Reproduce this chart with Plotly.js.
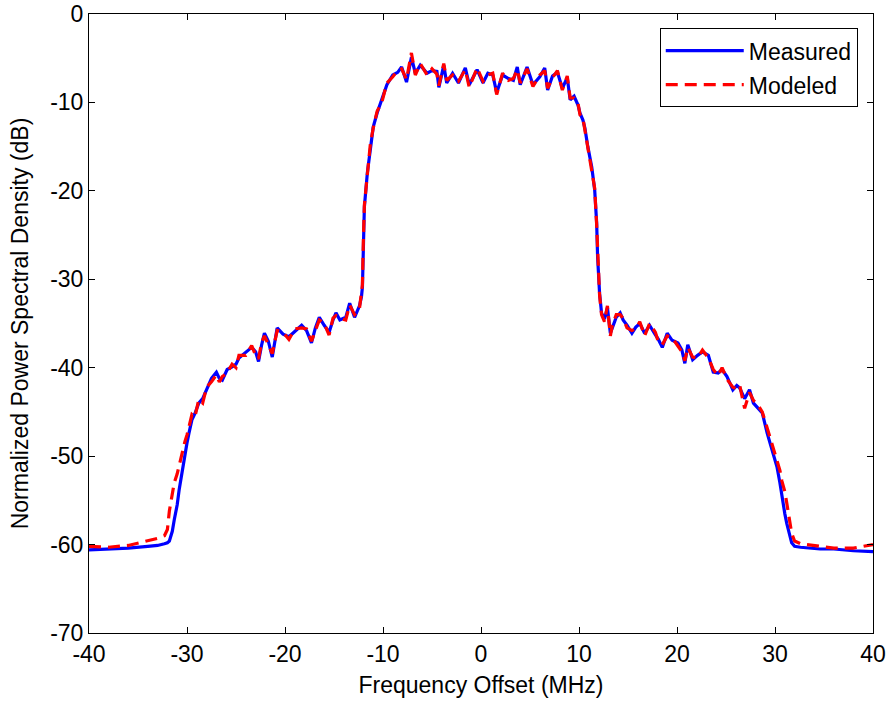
<!DOCTYPE html>
<html>
<head>
<meta charset="utf-8">
<script src="https://cdn.plot.ly/plotly-3.0.1.min.js"></script>
<style>html,body{margin:0;padding:0;background:#fff;}#chart{width:888px;height:704px;}</style>
</head>
<body>
<div id="chart"></div>
<script>
// Frequency offset (MHz)
var freq = [-40,-38,-36,-34,-33,-32.3,-32,-31.8,-31.5,-31.3,-31,-30.8,-30.5,-30.2,-30,-29.8,-29.5,-29.2,-28.8,-28.4,-28,-27.5,-27,-26.7,-26.4,-25.9,-25.4,-25,-24.7,-24,-23.4,-23,-22.7,-22.4,-22.1,-21.7,-21.3,-20.8,-20.2,-19.6,-19,-18.3,-17.8,-17.3,-16.9,-16.5,-16,-15.5,-15.1,-14.8,-14.4,-13.8,-13.4,-12.9,-12.4,-12.2,-12.1,-12,-11.9,-11.6,-11.3,-11,-10.6,-10.1,-9.6,-9,-8.5,-8.1,-7.6,-7.1,-6.7,-6.2,-5.5,-5,-4.5,-4.3,-3.8,-3.5,-2.9,-2.3,-1.6,-1.2,-0.4,0.2,0.7,1.2,1.6,2.2,2.8,3.3,3.7,4,4.7,5.3,6,6.5,6.8,7.3,7.8,8.3,8.8,9.1,9.5,9.9,10.1,10.4,10.6,10.9,11.3,11.6,11.8,11.9,12.1,12.3,12.6,12.9,13.2,13.4,13.8,14.2,14.5,14.9,15.4,15.8,16.2,16.7,17.2,17.8,18.1,18.5,19,19.5,20.1,20.5,20.8,21.1,21.6,22.1,22.6,23.2,23.7,24.2,24.6,25.1,25.7,26.1,26.4,26.9,27.4,27.8,28.3,28.7,29.2,29.7,30,30.2,30.5,30.7,31,31.2,31.5,31.7,32,32.6,34.6,36,38,40];

// Measured PSD (dB)
var measured = [-60.6,-60.5,-60.4,-60.2,-60.1,-59.9,-59.8,-59.6,-58.5,-57.2,-55.5,-53.8,-51.6,-49.8,-48.5,-47.4,-45.9,-45.2,-44.0,-43.5,-42.5,-41.2,-40.5,-41.2,-41.4,-40.2,-39.9,-39.6,-38.9,-38.3,-37.7,-38.2,-39.3,-37.5,-36.1,-37.0,-38.8,-35.5,-36.2,-36.5,-35.9,-35.2,-35.8,-37.2,-35.5,-34.3,-35.2,-36.0,-34.6,-33.8,-34.6,-34.3,-32.7,-34.3,-33.0,-32.0,-30.9,-25.6,-21.8,-18.0,-15.0,-12.8,-11.2,-9.7,-8.0,-6.9,-6.6,-6.0,-7.7,-4.9,-6.7,-5.8,-6.7,-6.4,-6.5,-8.3,-5.8,-7.8,-6.7,-7.8,-6.1,-8.0,-6.3,-7.8,-6.7,-6.9,-8.9,-6.9,-7.3,-7.5,-6.0,-8.0,-6.0,-8.0,-7.1,-6.1,-8.6,-7.0,-6.6,-8.4,-7.2,-9.7,-9.3,-10.3,-11.2,-12.0,-12.9,-15.0,-17.3,-19.9,-23.6,-27.5,-31.6,-33.8,-34.5,-33.2,-36.1,-35.5,-34.3,-33.8,-34.6,-35.2,-36.1,-35.4,-35.0,-36.1,-35.2,-36.3,-36.8,-37.7,-36.1,-36.9,-37.2,-38.0,-39.5,-37.4,-39.1,-38.6,-38.2,-38.6,-40.5,-40.6,-40.2,-41.0,-42.5,-42.0,-42.3,-43.5,-42.5,-44.0,-44.6,-45.1,-47.4,-49.3,-50.3,-51.2,-53.0,-54.6,-56.5,-57.6,-59.0,-59.8,-60.2,-60.3,-60.5,-60.5,-60.7,-60.8];

// Modeled PSD (dB)
var modeled = [-60.2,-60.3,-60.1,-59.6,-59.3,-59.0,-58.3,-56.2,-54.0,-53.0,-52.0,-51.0,-49.7,-48.3,-47.6,-46.8,-45.3,-45.6,-43.6,-44.0,-42.2,-41.6,-40.8,-41.6,-41.0,-40.6,-39.6,-40.0,-38.6,-38.6,-37.5,-38.6,-39.0,-37.2,-36.4,-37.4,-38.4,-35.8,-36.0,-36.8,-35.6,-35.5,-35.6,-37.0,-35.8,-34.6,-35.0,-36.3,-34.4,-34.1,-34.4,-34.6,-32.9,-34.0,-33.3,-31.8,-30.6,-25.4,-21.6,-18.2,-14.8,-12.9,-11.0,-9.9,-7.8,-7.1,-6.4,-6.2,-7.4,-4.4,-6.9,-5.6,-6.9,-6.2,-6.8,-8.1,-5.6,-7.5,-6.9,-7.6,-6.3,-8.3,-6.1,-7.6,-6.9,-6.7,-9.1,-6.7,-7.5,-7.3,-6.3,-7.8,-6.2,-8.2,-6.9,-6.4,-8.4,-7.2,-6.4,-8.6,-7.0,-9.5,-9.5,-10.1,-11.4,-11.8,-13.1,-14.8,-17.5,-19.7,-23.8,-27.3,-31.8,-34.0,-34.8,-33.0,-36.4,-35.2,-34.0,-34.0,-34.4,-35.5,-35.8,-35.6,-34.8,-36.4,-35.0,-36.0,-37.1,-37.4,-36.4,-36.6,-37.5,-38.2,-39.2,-37.7,-38.8,-38.9,-38.0,-38.9,-40.2,-40.9,-40.0,-41.3,-42.2,-42.4,-42.0,-44.6,-42.8,-43.7,-44.3,-45.0,-46.8,-48.6,-49.5,-50.3,-51.6,-52.8,-54.0,-55.3,-57.5,-58.7,-59.6,-59.9,-60.2,-60.4,-60.4,-60.0];

var xTicks = [-40,-30,-20,-10,0,10,20,30,40];
var yTicks = [-70,-60,-50,-40,-30,-20,-10,0];

var fontFam = 'Arial, "Liberation Sans", Helvetica, sans-serif';
var fs = 23;

var traces = [
  {x: freq, y: measured, type: 'scatter', mode: 'lines', name: 'Measured', legendgroup: 'a',
   line: {color: '#0000ff', width: 3.2}},
  {x: freq, y: modeled, type: 'scatter', mode: 'lines', name: 'Modeled', legendgroup: 'b',
   line: {color: '#ff0000', width: 3.2, dash: '12px,7px'}}
];

var axisCommon = {
  showgrid: false, zeroline: false, showline: true, linecolor: '#000', linewidth: 1,
  mirror: 'ticks', ticks: 'inside', ticklen: 6, tickcolor: '#000', tickwidth: 1,
  tickfont: {family: fontFam, size: fs, color: '#000'}
};

var layout = {
  width: 888, height: 704,
  margin: {l: 89, r: 15, t: 14, b: 71},
  paper_bgcolor: '#fff', plot_bgcolor: '#fff',
  showlegend: true,
  legend: {
    x: 0.728, y: 0.977, xanchor: 'left', yanchor: 'top',
    bgcolor: '#fff', bordercolor: '#000', borderwidth: 1,
    font: {family: fontFam, size: fs, color: '#000'},
    itemwidth: 78, traceorder: 'grouped', tracegroupgap: 1
  },
  xaxis: Object.assign({}, axisCommon, {
    range: [-40, 40], tickvals: xTicks, ticktext: xTicks.map(String),
    title: {text: 'Frequency Offset (MHz)', font: {family: fontFam, size: fs, color: '#000'}, standoff: 11}
  }),
  yaxis: Object.assign({}, axisCommon, {
    range: [-70, 0], tickvals: yTicks, ticktext: yTicks.map(String),
    title: {text: 'Normalized Power Spectral Density (dB)', font: {family: fontFam, size: fs, color: '#000'}, standoff: 15}
  })
};

Plotly.newPlot('chart', traces, layout, {displayModeBar: false, staticPlot: true});
</script>
</body>
</html>
